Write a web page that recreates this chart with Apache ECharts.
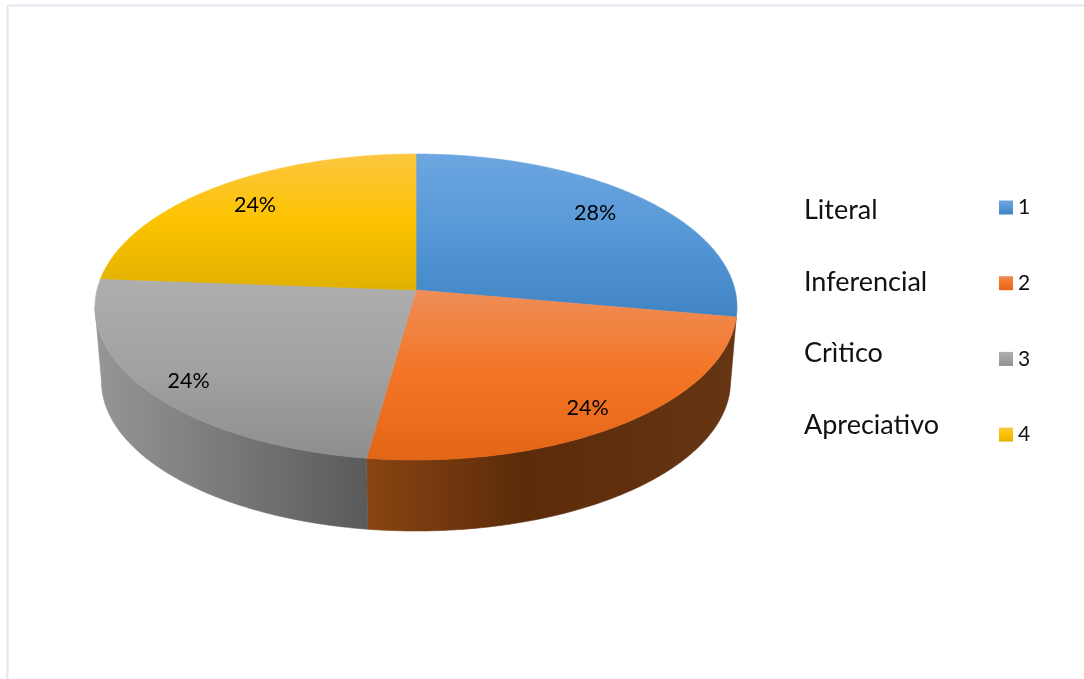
<!DOCTYPE html>
<html>
<head>
<meta charset="utf-8">
<style>html,body{margin:0;padding:0;background:#fff}#c{width:1084px;height:679px}</style>
<script src="https://cdn.jsdelivr.net/npm/echarts@6/dist/echarts.min.js"></script>
</head>
<body>
<div id="c"></div>
<script>
const seriesNames = ['1', '2', '3', '4'];
const categories = ['Literal', 'Inferencial', 'Crìtico', 'Apreciativo'];
const values = [27.8, 24.4, 24.0, 23.8];

const FONT = 'Lato, "Open Sans", sans-serif';
const total = values.reduce((a, b) => a + b, 0);

// Perspective view of the disc (layout only, slice angles come from values).
const VIEW = { cx: 416, apexY: 290, r: 319, b: 151.1, k: 1 / 9 };
const BASE = { cx: 416, apexY: 364.5, r: 312.6, b: 148, k: 1 / 9 };
const SILHOUETTE_END = 263.6;

function project(view, deg, radius) {
  const t = deg * Math.PI / 180;
  const u = Math.sin(t) * radius, v = -Math.cos(t) * radius;
  const d = 1 - view.k * v;
  return [view.cx + view.r * u / d, view.apexY + view.b * v / d];
}
function arc(view, from, to) {
  const pts = [], n = Math.max(2, Math.ceil((to - from) * 2));
  for (let i = 0; i <= n; i++) pts.push(project(view, from + (to - from) * i / n, 1));
  return pts;
}
const lg = (stops, x2, y2) => new echarts.graphic.LinearGradient(0, 0, x2, y2,
  stops.map(s => ({ offset: s[0], color: s[1] })));

const topFill = [
  [[0, '#6ca6e0'], [0.5, '#5698d6'], [1, '#4084c4']],
  [[0, '#ee8e58'], [0.5, '#f37424'], [1, '#e36616']],
  [[0, '#aeaeae'], [0.5, '#a2a2a2'], [1, '#8e8e8e']],
  [[0, '#fcc640'], [0.5, '#fdc300'], [1, '#e0b000']]
];
const wallFill = [
  null,
  [[0, '#8a4512'], [0.42, '#5b2b0a'], [1, '#663514']],
  [[0, '#969696'], [1, '#5a5a5a']],
  null
];
const labelRadius = [0.8, 0.85, 0.85, 0.79];
const labelNudge = [[-6, -3], [-1, 6], [-3, 5], [0, -3]];

function renderSlice(index) {
  return function (params, api) {
    const value = api.value(0);
    const before = values.slice(0, index).reduce((a, b) => a + b, 0);
    const start = before / total * 360, end = (before + value) / total * 360;
    const children = [];
    if (wallFill[index]) {
      const wallEnd = Math.min(end, SILHOUETTE_END);
      const rim = arc(VIEW, start, wallEnd), base = arc(BASE, start, wallEnd).reverse();
      const wall = lg(wallFill[index], 1, 0);
      children.push({
        type: 'polygon', z2: 1,
        shape: { points: rim.concat(base) },
        style: { fill: wall, stroke: wall, lineWidth: 0.6 }
      });
    }
    const apex = [VIEW.cx, VIEW.apexY];
    const fill = lg(topFill[index], 0, 1);
    children.push({
      type: 'polygon', z2: 2,
      shape: { points: [apex].concat(arc(VIEW, start, end)) },
      style: { fill: fill, stroke: fill, lineWidth: 0.6 }
    });
    const p = project(VIEW, (start + end) / 2, labelRadius[index]);
    children.push({
      type: 'text', z2: 3,
      x: p[0] + labelNudge[index][0], y: p[1] + labelNudge[index][1],
      style: {
        text: Math.round(value / total * 100) + '%',
        fill: '#000', font: '21.5px ' + FONT, align: 'center', verticalAlign: 'middle'
      }
    });
    return { type: 'group', children: children };
  };
}

const chart = echarts.init(document.getElementById('c'), null, { renderer: 'canvas' });
chart.setOption({
  animation: false,
  backgroundColor: '#fff',
  legend: {
    orient: 'vertical', left: 999, top: 197, padding: 0,
    itemWidth: 14, itemHeight: 14, itemGap: 54.7,
    icon: 'rect', selectedMode: false,
    data: seriesNames,
    textStyle: { fontFamily: FONT, fontSize: 21, color: '#111', lineHeight: 14, padding: [0, 0, 0, 0] }
  },
  graphic: [
    { type: 'line', silent: true, shape: { x1: 7.5, y1: 5.5, x2: 1084, y2: 5.5 }, style: { stroke: '#e0e7ef', lineWidth: 2 } },
    { type: 'line', silent: true, shape: { x1: 7.5, y1: 5.5, x2: 7.5, y2: 679 }, style: { stroke: '#e0e7ef', lineWidth: 2 } }
  ].concat(categories.map((name, i) => ({
    type: 'text', left: 804, top: 197 + i * 71.6,
    style: { text: name, fill: '#111', font: '27px ' + FONT }
  }))),
  series: seriesNames.map((name, i) => ({
    type: 'custom', name: name, coordinateSystem: 'none',
    itemStyle: { color: lg(topFill[i], 0, 1) },
    data: [[values[i]]],
    renderItem: renderSlice(i)
  }))
});
</script>
</body>
</html>
